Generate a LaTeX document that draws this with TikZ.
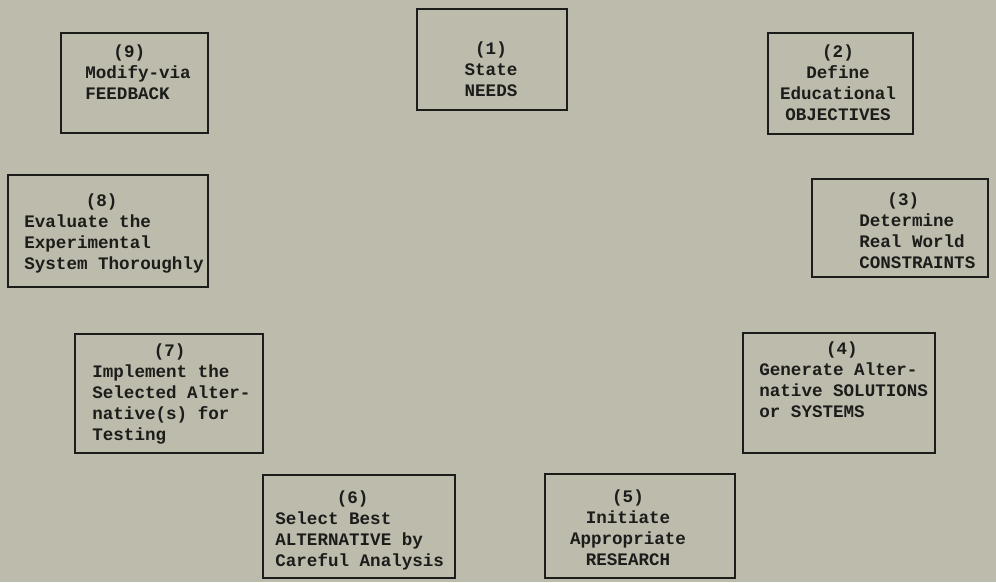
\documentclass[tikz,border=0pt]{standalone}
\usepackage{fontspec}
\setmonofont{Liberation Mono}
\usepackage{xcolor}
\usepackage{tikz}
\definecolor{paperc}{HTML}{BDBBAC}
\definecolor{inkc}{HTML}{1C1C1A}
\newcommand{\hd}[2]{\multicolumn{1}{@{\hspace{#2}}l@{}}{(#1)}}
\tikzset{
  box/.style={draw=inkc,line width=1.6pt,fill=paperc,inner sep=0pt},
  lbl/.style={font=\fontsize{10}{12}\selectfont\ttfamily\bfseries,text=inkc,inner sep=0pt}
}

\begin{document}
\begin{tikzpicture}[x=0.02cm,y=0.02cm]
\useasboundingbox[fill=paperc] (0,0) rectangle (996,582);
\node[box,minimum width=3cm,minimum height=2.02cm] (need) at (492,522.5) {};
\node[box,minimum width=2.9cm,minimum height=2.02cm] (obj) at (840.5,498.5) {};
\node[box,minimum width=3.52cm,minimum height=1.96cm] (cons) at (900,354) {};
\node[box,minimum width=3.84cm,minimum height=2.4cm] (gen) at (839,189) {};
\node[box,minimum width=3.8cm,minimum height=2.08cm] (res) at (640,56) {};
\node[box,minimum width=3.84cm,minimum height=2.06cm] (sel) at (359,55.5) {};
\node[box,minimum width=3.76cm,minimum height=2.38cm] (impl) at (169,188.5) {};
\node[box,minimum width=4cm,minimum height=2.24cm] (eval) at (108,351) {};
\node[box,minimum width=2.94cm,minimum height=2cm] (mod) at (134.5,499) {};
\node[lbl] (needt) at (491,510.5) {\begin{tabular}{@{}c@{}}(1)\\State\\NEEDS\end{tabular}};
\node[lbl] (objt) at (838,497.5) {\begin{tabular}{@{}c@{}}(2)\\Define\\Educational\\OBJECTIVES\end{tabular}};
\node[lbl,anchor=west] (const) at (859,349) {\begin{tabular}{@{}l@{}}\hd{3}{16pt}\\Determine\\Real World\\CONSTRAINTS\end{tabular}};
\node[lbl,anchor=west] (gent) at (759,200) {\begin{tabular}{@{}l@{}}\hd{4}{38pt}\\Generate Alter-\\native SOLUTIONS\\or SYSTEMS\end{tabular}};
\node[lbl] (rest) at (628,52) {\begin{tabular}{@{}c@{}}(5)\\Initiate\\Appropriate\\RESEARCH\end{tabular}};
\node[lbl,anchor=west] (selt) at (275,51) {\begin{tabular}{@{}l@{}}\hd{6}{35pt}\\Select Best\\ALTERNATIVE by\\Careful Analysis\end{tabular}};
\node[lbl,anchor=west] (implt) at (92,187.5) {\begin{tabular}{@{}l@{}}\hd{7}{35pt}\\Implement the\\Selected Alter-\\native(s) for\\Testing\end{tabular}};
\node[lbl,anchor=west] (evalt) at (24,348.5) {\begin{tabular}{@{}l@{}}\hd{8}{35pt}\\Evaluate the\\Experimental\\System Thoroughly\end{tabular}};
\node[lbl,anchor=west] (modt) at (85,508) {\begin{tabular}{@{}l@{}}\hd{9}{16pt}\\Modify-via\\FEEDBACK\end{tabular}};
\end{tikzpicture}
\end{document}
